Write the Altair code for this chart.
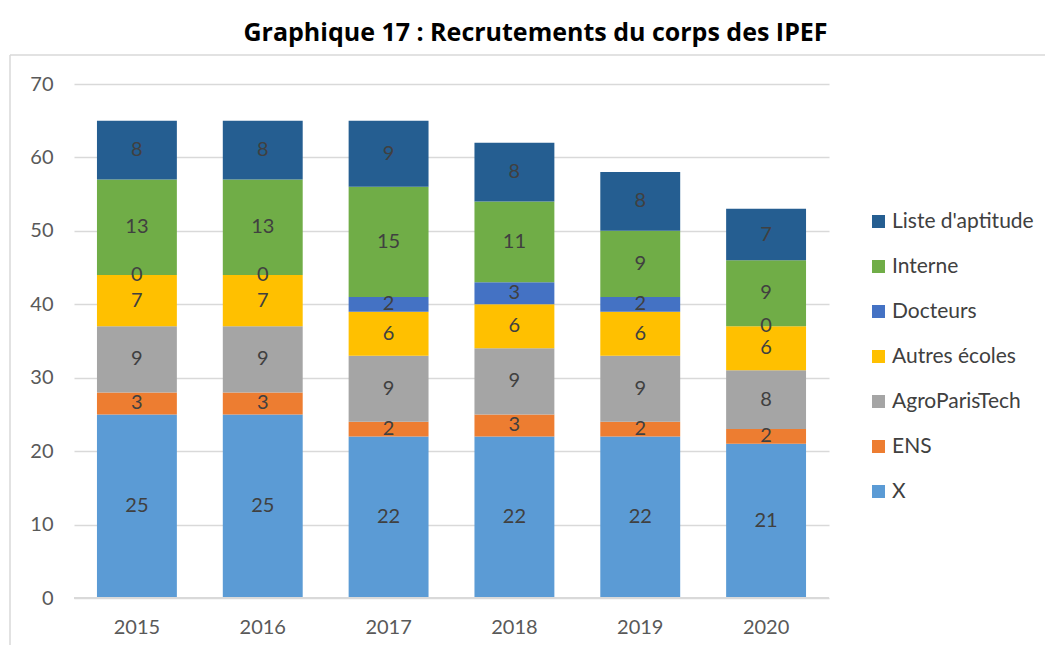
import altair as alt
import pandas as pd

years = ["2015", "2016", "2017", "2018", "2019", "2020"]
series = ["X", "ENS", "AgroParisTech", "Autres écoles", "Docteurs", "Interne", "Liste d'aptitude"]
colors = ["#5B9BD5", "#ED7D31", "#A5A5A5", "#FFC000", "#4472C4", "#70AD47", "#255E91"]
values = {
    "X": [25, 25, 22, 22, 22, 21],
    "ENS": [3, 3, 2, 3, 2, 2],
    "AgroParisTech": [9, 9, 9, 9, 9, 8],
    "Autres écoles": [7, 7, 6, 6, 6, 6],
    "Docteurs": [0, 0, 2, 3, 2, 0],
    "Interne": [13, 13, 15, 11, 9, 9],
    "Liste d'aptitude": [8, 8, 9, 8, 8, 7],
}
y_ticks = [0, 10, 20, 30, 40, 50, 60, 70]

rows = []
for i, s in enumerate(series):
    for j, y in enumerate(years):
        rows.append({"year": y, "serie": s, "value": values[s][j], "ord": i})
df = pd.DataFrame(rows)

FONT = "Lato"
W, H = 755, 514
PL, PT = 66, 76

legend_order = list(reversed(series))
legend_colors = list(reversed(colors))

xenc = alt.X("year:N", title=None, sort=years,
             scale=alt.Scale(paddingInner=0.365, paddingOuter=0.1825),
             axis=alt.Axis(labelAngle=0, labelFontSize=20, labelColor="#595959", labelFont=FONT,
                           ticks=False, domain=False, labelPadding=19))

bars = alt.Chart(df).mark_bar().encode(
    x=xenc,
    y=alt.Y("value:Q", stack="zero", title=None,
            scale=alt.Scale(domain=[0, 70], nice=False),
            axis=alt.Axis(values=y_ticks, labelFontSize=20, labelColor="#595959", labelFont=FONT,
                          ticks=False, domain=False, grid=True, gridColor="#D9D9D9", gridWidth=1.5,
                          labelPadding=21)),
    color=alt.Color("serie:N", sort=legend_order,
                    scale=alt.Scale(domain=legend_order, range=legend_colors),
                    legend=alt.Legend(title=None, orient="none", legendX=794, legendY=127,
                                      symbolType="square", symbolSize=170, symbolStrokeWidth=0,
                                      labelFontSize=21, labelFont=FONT, labelColor="#404040",
                                      rowPadding=23, labelOffset=3)),
    order=alt.Order("ord:Q", sort="ascending"),
)

labels = alt.Chart(df).transform_window(
    cum="sum(value)", sort=[alt.SortField("ord", order="ascending")], groupby=["year"],
    frame=[None, 0]
).transform_calculate(
    mid="datum.cum - datum.value / 2"
).mark_text(fontSize=20, font=FONT, color="#404040", baseline="middle").encode(
    x=alt.X("year:N", sort=years, title=None),
    y=alt.Y("mid:Q", scale=alt.Scale(domain=[0, 70], nice=False)),
    text=alt.Text("value:Q"),
)

zero_line = alt.Chart(pd.DataFrame({"v": [0]})).mark_rule(color="#D9D9D9", strokeWidth=2).encode(
    y=alt.Y("v:Q", scale=alt.Scale(domain=[0, 70], nice=False))
)

frame_left = alt.Chart(pd.DataFrame({"v": [0]})).mark_rule(color="#D9D9D9", strokeWidth=1.5).encode(
    x=alt.value(-64), y=alt.value(-29), y2=alt.value(H + 80)
)
frame_top = alt.Chart(pd.DataFrame({"v": [0]})).mark_rule(color="#D9D9D9", strokeWidth=1.5).encode(
    x=alt.value(-64), x2=alt.value(W + 300), y=alt.value(-29)
)

chart = alt.layer(frame_left, frame_top, bars, zero_line, labels).properties(
    width=W, height=H,
    title=alt.TitleParams("Graphique 17 : Recrutements du corps des IPEF", fontSize=25,
                          font="Open Sans", fontWeight="bold", color="#000000", anchor="middle",
                          frame="group", dx=84, offset=8),
    autosize=alt.AutoSizeParams(type="none"),
    padding={"left": PL, "top": PT, "right": 216, "bottom": 47},
).configure(background="white").configure_view(stroke=None)

chart.save("out.html", embed_options={"renderer": "svg", "actions": False})
